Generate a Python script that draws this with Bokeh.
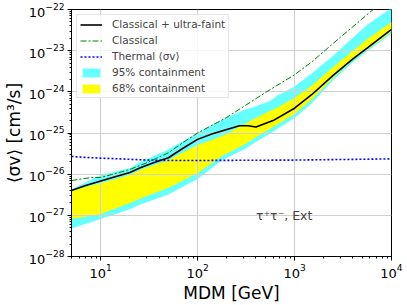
from bokeh.plotting import figure
from bokeh.models import Label, Legend, LegendItem, LogTicker
from bokeh.embed import file_html
from bokeh.resources import INLINE

# ---- data ----
band_mass = [5, 10, 20, 26, 50, 100, 180, 300, 380, 570, 660, 1000, 1500, 2500, 4000, 5600, 10000]
cyan_hi = [4.3e-27, 9.5e-27, 1.4e-26, 2.0e-26, 4.0e-26, 1.0e-25, 2.1e-25, 3.6e-25, 4.3e-25, 6.2e-25,
           8.0e-25, 1.35e-24, 2.8e-24, 7.5e-24, 2.1e-23, 4.2e-23, 1.1e-22]
yellow_hi = [4.0e-27, 6.0e-27, 9.5e-27, 1.28e-26, 2.2e-26, 5.1e-26, 8.5e-26, 1.6e-25, 2.2e-25, 3.5e-25,
             4.1e-25, 7.2e-25, 1.4e-24, 4.0e-24, 1.0e-23, 1.9e-23, 5.0e-23]
yellow_lo = [8.1e-28, 1.07e-27, 2.0e-27, 2.6e-27, 4.7e-27, 1.05e-26, 2.8e-26, 5.2e-26, 7.4e-26, 1.3e-25,
             1.6e-25, 2.9e-25, 6.5e-25, 2.2e-24, 6.0e-24, 1.05e-23, 2.9e-23]
cyan_lo = [4.8e-28, 8.1e-28, 1.4e-27, 1.86e-27, 3.2e-27, 7.6e-27, 2.2e-26, 4.0e-26, 5.6e-26, 1.0e-25,
           1.25e-25, 2.3e-25, 5.2e-25, 1.9e-24, 5.2e-24, 9.5e-24, 2.6e-23]

comb_mass = [5, 7, 10, 15, 20, 26, 35, 50, 70, 100, 140, 200, 270, 330, 400, 600, 1000, 1500, 2500,
             4000, 5600, 10000]
comb_sv = [4.0e-27, 5.3e-27, 6.8e-27, 9e-27, 1.1e-26, 1.45e-26, 1.9e-26, 2.5e-26, 4.2e-26, 7.0e-26,
           9.5e-26, 1.22e-25, 1.5e-25, 1.5e-25, 1.4e-25, 2.0e-25, 4.0e-25, 8.5e-25, 2.5e-24, 6.3e-24,
           1.15e-23, 3.3e-23]

class_mass = [5, 8, 10, 13, 20, 30, 50, 70, 100, 200, 500, 1000, 1500, 2500, 6300, 10000]
class_sv = [7e-27, 8.3e-27, 8.3e-27, 9.8e-27, 1.3e-26, 1.9e-26, 3.3e-26, 5.8e-26, 1.0e-25, 2.4e-25,
            9.6e-25, 2.6e-24, 5.3e-24, 1.5e-23, 9.5e-23, 2.3e-22]

thermal_mass = [5, 7, 10, 20, 30, 50, 100, 1000, 10000]
thermal_sv = [2.7e-26, 2.55e-26, 2.45e-26, 2.3e-26, 2.2e-26, 2.15e-26, 2.15e-26, 2.2e-26, 2.35e-26]

x_range = (5, 1e4)
y_range = (1e-28, 1e-22)

legend_labels = ["Classical + ultra-faint", "Classical", "Thermal \u27e8\u03c3v\u27e9",
                 "95% containment", "68% containment"]
annot_text = "\u03c4\u207a\u03c4\u207b, Ext"
y_label = "\u27e8\u03c3v\u27e9 [cm\u00b3/s]"
x_label = "MDM [GeV]"

FONT = "DejaVu Sans"

p = figure(width=407, height=305, x_axis_type="log", y_axis_type="log",
           x_range=x_range, y_range=y_range, output_backend="svg", toolbar_location=None,
           min_border_left=70, min_border_top=9, min_border_right=16, min_border_bottom=45)
p.background_fill_color = "white"
p.border_fill_color = "white"
p.outline_line_color = "black"
p.outline_line_width = 1

for ax in (p.xaxis, p.yaxis):
    ax.major_label_text_font = FONT
    ax.major_label_text_font_size = "13px"
    ax.major_label_text_color = "black"
    ax.major_tick_out = 4
    ax.major_tick_in = 0
    ax.minor_tick_out = 2
    ax.minor_tick_in = 0
    ax.axis_line_color = "black"
    ax.major_tick_line_color = "black"
    ax.minor_tick_line_color = "black"
    ax.major_label_standoff = 3
    ax.axis_label_text_font = FONT
    ax.axis_label_text_font_size = "17px"
    ax.axis_label_text_font_style = "normal"
    ax.axis_label_text_color = "black"
p.xaxis.ticker = LogTicker(desired_num_ticks=4, num_minor_ticks=10)
p.yaxis.ticker = LogTicker(desired_num_ticks=7, num_minor_ticks=10)

p.yaxis.axis_label = y_label
p.yaxis.axis_label_standoff = 2
p.xaxis.axis_label = x_label
p.xaxis.axis_label_standoff = 2

for g in (p.xgrid, p.ygrid):
    g.grid_line_color = "#d0d0d0"
    g.grid_line_width = 1.2
    g.level = "underlay"

r95 = p.varea(x=band_mass, y1=cyan_lo, y2=cyan_hi, fill_color="#66ffff", level="image")
r68 = p.varea(x=band_mass, y1=yellow_lo, y2=yellow_hi, fill_color="#ffff00", level="image")
rth = p.line(thermal_mass, thermal_sv, line_color="#0000ff", line_width=1.6, line_dash="2 2")
rcl = p.line(class_mass, class_sv, line_color="#008000", line_width=1.0, line_dash="6 2 2 2")
rco = p.line(comb_mass, comb_sv, line_color="black", line_width=1.6)

legend = Legend(items=[
    LegendItem(label=legend_labels[0], renderers=[rco]),
    LegendItem(label=legend_labels[1], renderers=[rcl]),
    LegendItem(label=legend_labels[2], renderers=[rth]),
    LegendItem(label=legend_labels[3], renderers=[r95]),
    LegendItem(label=legend_labels[4], renderers=[r68]),
], location="top_left")
legend.margin = 5
legend.padding = 3
legend.spacing = 4
legend.glyph_width = 22
legend.glyph_height = 11
legend.label_height = 11
legend.label_standoff = 10
legend.label_text_font = FONT
legend.label_text_font_size = "10.5px"
legend.border_line_color = "#cccccc"
legend.border_line_width = 1
legend.background_fill_alpha = 0.8
p.add_layout(legend)

p.add_layout(Label(x=400, y=1e-27, text=annot_text, text_font=FONT, text_font_size="12.5px",
                   text_baseline="alphabetic", text_align="left"))

open("out.html", "w").write(file_html(p, INLINE))
